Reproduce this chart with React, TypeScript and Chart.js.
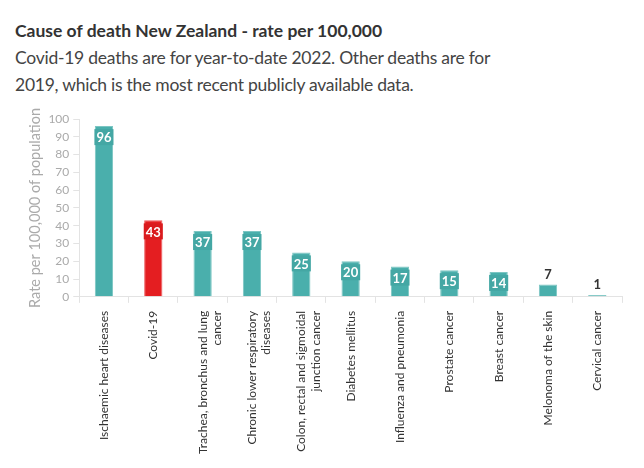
import React, { useEffect, useRef } from "react";
import { Chart, registerables } from "chart.js";

Chart.register(...registerables);

const categories: (string | string[])[] = [
  "Ischaemic heart diseases",
  "Covid-19",
  ["Trachea, bronchus and lung", "cancer"],
  ["Chronic lower respiratory", "diseases"],
  ["Colon, rectal and sigmoidal", "junction cancer"],
  "Diabetes mellitus",
  "Influenza and pneumonia",
  "Prostate cancer",
  "Breast cancer",
  "Melonoma of the skin",
  "Cervical cancer",
];
const rates = [96, 43, 37, 37, 25, 20, 17, 15, 14, 7, 1];
const highlight = [false, true, false, false, false, false, false, false, false, false, false];

const TEAL = "#4aafac";
const TEAL_DARK = "#44a7a4";
const RED = "#e41e21";
const RED_DARK = "#da1b1e";
const FONT = "Lato, 'Open Sans', sans-serif";

const labelPlugin = {
  id: "barLabels",
  afterDatasetsDraw(chart: any) {
    const ctx = chart.ctx;
    const meta = chart.getDatasetMeta(0);
    ctx.save();
    ctx.font = `bold 13px ${FONT}`;
    ctx.textAlign = "center";
    ctx.textBaseline = "middle";
    meta.data.forEach((bar: any, i: number) => {
      const v = rates[i];
      const txt = String(v);
      if (v >= 10) {
        const w = ctx.measureText(txt).width + 4;
        const cy = bar.y + 11;
        ctx.fillStyle = highlight[i] ? RED_DARK : TEAL_DARK;
        ctx.fillRect(bar.x - w / 2, cy - 8, w, 16);
        ctx.fillStyle = "#ffffff";
        ctx.fillText(txt, bar.x, cy + 1);
      } else {
        ctx.fillStyle = "#333333";
        ctx.fillText(txt, bar.x, bar.y - 10);
      }
    });
    ctx.restore();
  },
};

export default function App() {
  const ref = useRef<HTMLCanvasElement>(null);
  useEffect(() => {
    if (!ref.current) return;
    const chart = new Chart(ref.current, {
      type: "bar",
      data: {
        labels: categories,
        datasets: [
          {
            data: rates,
            backgroundColor: highlight.map((h) => (h ? RED : TEAL)),
            borderColor: highlight.map((h) => (h ? "#ee5a5c" : "#7cc6c3")),
            borderWidth: 1,
            barPercentage: 0.37,
            categoryPercentage: 1,
          },
        ],
      },
      options: {
        animation: false,
        responsive: false,
        maintainAspectRatio: false,
        layout: { padding: { left: 27, right: 22, top: 23, bottom: 6 } },
        plugins: {
          legend: { display: false },
          tooltip: { enabled: false },
        },
        scales: {
          x: {
            grid: {
              drawOnChartArea: false,
              color: "#e3e3e3",
              tickLength: 6,
            },
            border: { color: "#e3e3e3" },
            ticks: {
              minRotation: 90,
              maxRotation: 90,
              autoSkip: false,
              color: "#333333",
              font: { family: FONT, size: 12 },
              padding: 8,
            },
          },
          y: {
            min: 0,
            max: 100,
            grid: {
              drawOnChartArea: false,
              color: "#e3e3e3",
              tickLength: 6,
            },
            border: { color: "#e3e3e3" },
            ticks: {
              stepSize: 10,
              autoSkip: false,
              color: "#aaaaaa",
              font: { family: FONT, size: 12 },
              padding: 4,
            },
            title: {
              display: true,
              text: "Rate per 100,000 of population",
              color: "#aaaaaa",
              font: { family: FONT, size: 14.5 },
              padding: { top: 0, bottom: 0 },
            },
          },
        },
      },
      plugins: [labelPlugin],
    });
    return () => chart.destroy();
  }, []);

  return (
    <div style={{ position: "absolute", left: 0, top: 0, width: 644, height: 468, background: "#fff", fontFamily: FONT }}>
      <div style={{ position: "absolute", left: 15, top: 20, fontSize: 17.5, fontWeight: 700, color: "#333", lineHeight: "22px", whiteSpace: "nowrap" }}>
        Cause of death New Zealand - rate per 100,000
      </div>
      <div style={{ position: "absolute", left: 15, top: 44, width: 620, fontSize: 17.5, letterSpacing: "-0.25px", color: "#444", lineHeight: "27px", whiteSpace: "nowrap" }}>
        Covid-19 deaths are for year-to-date 2022. Other deaths are for
        <br />
        2019, which is the most recent publicly available data.
      </div>
      <canvas ref={ref} width={644} height={372} style={{ position: "absolute", left: 0, top: 96 }} />
    </div>
  );
}
